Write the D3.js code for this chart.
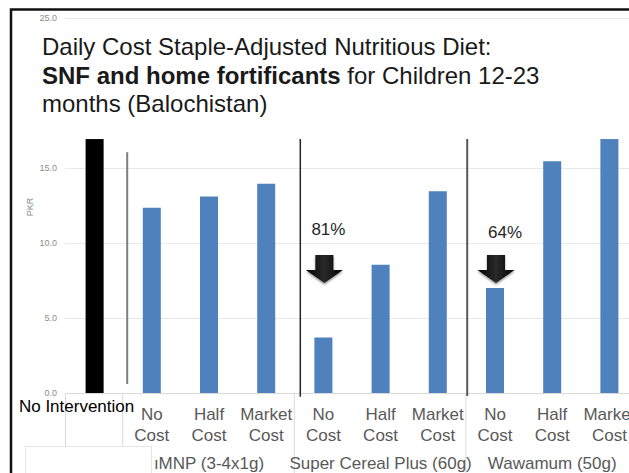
<!DOCTYPE html>
<html>
<head>
<meta charset="utf-8">
<script src="https://cdn.jsdelivr.net/npm/d3@7"></script>
<style>
  body { margin: 0; background: #fff; }
  svg { display: block; font-family: 'Liberation Sans', Arial, sans-serif; }
</style>
</head>
<body>
<div id="chart"></div>
<script>
// chart values
const groups = ['', 'ıMNP (3-4x1g)', 'Super Cereal Plus (60g)', 'Wawamum (50g)']
const costLevels = ['No Cost', 'Half Cost', 'Market Cost']
const values = [18.0, 12.35, 13.1, 13.95, 3.7, 8.55, 13.45, 7.0, 15.45, 17.4]
const yTicks = [0, 5, 10, 15, 20, 25]
const reductions = [{ index: 4, label: '81%' }, { index: 7, label: '64%' }]
const titleLines = [
  [{ text: 'Daily Cost Staple-Adjusted Nutritious Diet:', bold: false }],
  [{ text: 'SNF and home fortificants', bold: true }, { text: ' for Children 12-23', bold: false }],
  [{ text: 'months (Balochistan)', bold: false }]
]

const categories = [{ group: 0, label: ['No Intervention'] }]
groups.slice(1).forEach((g, gi) => {
  costLevels.forEach((c) => categories.push({ group: gi + 1, label: c.split(' ') }))
})
const data = categories.map((c, i) => ({ ...c, i, value: values[i] }))

const W = 629
const H = 473
const blue = '#4f81bd'
const grey = '#595959'

const svg = d3.select('#chart').append('svg')
  .attr('width', W)
  .attr('height', H)

const x = d3.scaleBand()
  .domain(d3.range(data.length))
  .range([66, 638])
  .paddingInner(0.685)
  .paddingOuter(0.3425)

const y = d3.scaleLinear()
  .domain([0, 25])
  .range([393, 18])

const step = x.step()
const bw = x.bandwidth()
const left = x.range()[0]

// the title box hides the plot between these values
const boxTop = 26
const boxBottomValue = 16.93
const hidden = (v) => y(v) > boxTop && y(v) < y(boxBottomValue)

// gridlines + y labels
svg.append('g').selectAll('line').data(yTicks).join('line')
  .attr('x1', 65).attr('x2', W)
  .attr('y1', (d) => y(d) + 0.5).attr('y2', (d) => y(d) + 0.5)
  .attr('stroke', (d) => d === 0 ? '#d9d9d9' : '#e8e8e8')

svg.append('g').selectAll('text').data(yTicks.filter((d) => !hidden(d))).join('text')
  .attr('x', 57)
  .attr('y', (d) => y(d) + 3)
  .attr('text-anchor', 'end')
  .attr('font-size', 9)
  .attr('fill', '#8c8c8c')
  .text((d) => d.toFixed(1))

svg.append('text')
  .attr('transform', `translate(33, ${y(12.4)}) rotate(-90)`)
  .attr('text-anchor', 'middle')
  .attr('font-size', 9)
  .attr('fill', '#8c8c8c')
  .text('PKR')

// bars
svg.append('g').selectAll('rect').data(data).join('rect')
  .attr('x', (d) => x(d.i))
  .attr('y', (d) => y(d.value))
  .attr('width', bw)
  .attr('height', (d) => y(0) - y(d.value))
  .attr('fill', (d) => d.group === 0 ? '#000' : blue)

// category axis: tick lines at group edges
const groupEdges = [0, 1, 4, 7]
svg.append('g').selectAll('line').data(groupEdges).join('line')
  .attr('x1', (d) => left + d * step - 0.5)
  .attr('x2', (d) => left + d * step - 0.5)
  .attr('y1', y(0))
  .attr('y2', H)
  .attr('stroke', '#d9d9d9')

// category labels
const catLabels = svg.append('g').selectAll('text').data(data.filter((d) => d.group > 0)).join('text')
  .attr('text-anchor', 'middle')
  .attr('font-size', 17)
  .attr('fill', grey)
catLabels.selectAll('tspan').data((d) => d.label.map((l) => ({ l, cx: x(d.i) + bw / 2 }))).join('tspan')
  .attr('x', (d) => d.cx)
  .attr('y', (d, i) => 420 + i * 21)
  .text((d) => d.l)

// group labels
svg.append('g').selectAll('text').data(groups.slice(1)).join('text')
  .attr('x', (d, i) => left + (groupEdges[i + 1] + 1.5) * step)
  .attr('y', 469)
  .attr('text-anchor', 'middle')
  .attr('font-size', 17)
  .attr('fill', grey)
  .text((d) => d)

// white box that sits over the lower-left axis corner
svg.append('rect')
  .attr('x', 25.5).attr('y', 446.5)
  .attr('width', 126).attr('height', 40)
  .attr('fill', '#fff')
  .attr('stroke', '#e6e6e6')

svg.append('text')
  .attr('x', x(0) + bw / 2 - 18)
  .attr('y', 412)
  .attr('text-anchor', 'middle')
  .attr('font-size', 17)
  .attr('fill', '#000')
  .text(data[0].label[0])

// title box covers the top of the plot
svg.append('rect')
  .attr('x', 12).attr('y', boxTop)
  .attr('width', W).attr('height', y(boxBottomValue) - boxTop)
  .attr('fill', '#fff')

const title = svg.append('text')
  .attr('font-size', 24)
  .attr('fill', '#1a1a1a')
titleLines.forEach((line, li) => {
  line.forEach((part, pi) => {
    const t = title.append('tspan')
      .attr('font-weight', part.bold ? 'bold' : 'normal')
      .text(part.text)
    if (pi === 0) t.attr('x', 42).attr('y', 55 + li * 28.5)
  })
})

// divider lines drawn on the slide
const dividers = [
  { at: 1, dx: 4, top: 16.05, bottom: 0.6, color: '#7f7f7f', w: 2 },
  { at: 4, dx: 5.5, top: boxBottomValue, bottom: -0.25, color: '#262626', w: 1.5 },
  { at: 7, dx: 0.8, top: boxBottomValue, bottom: -0.2, color: '#595959', w: 2 }
]
svg.append('g').selectAll('line').data(dividers).join('line')
  .attr('x1', (d) => left + d.at * step + d.dx)
  .attr('x2', (d) => left + d.at * step + d.dx)
  .attr('y1', (d) => y(d.top))
  .attr('y2', (d) => y(d.bottom))
  .attr('stroke', (d) => d.color)
  .attr('stroke-width', (d) => d.w)

// reduction arrows
const defs = svg.append('defs')
const grad = defs.append('linearGradient').attr('id', 'arrowGrad')
  .attr('x1', 0).attr('x2', 1).attr('y1', 0).attr('y2', 0)
grad.append('stop').attr('offset', 0).attr('stop-color', '#000')
grad.append('stop').attr('offset', 0.5).attr('stop-color', '#2a2a2a')
grad.append('stop').attr('offset', 1).attr('stop-color', '#000')
const shadow = defs.append('filter').attr('id', 'arrowShadow')
  .attr('x', '-30%').attr('y', '-30%').attr('width', '160%').attr('height', '160%')
shadow.append('feDropShadow').attr('dx', 0).attr('dy', 1.5).attr('stdDeviation', 1.2)
  .attr('flood-color', '#000').attr('flood-opacity', 0.45)

const arrowTop = y(9.2)
const arrowTip = y(7.33)
const arrows = svg.append('g').selectAll('g').data(reductions).join('g')
  .attr('transform', (d) => `translate(${x(d.index) + bw / 2 + 1}, 0)`)

arrows.append('path')
  .attr('d', () => {
    const neck = arrowTop + 15
    return `M-9,${arrowTop} L9,${arrowTop} L9,${neck} L18.5,${neck} L0,${arrowTip} L-18.5,${neck} L-9,${neck} Z`
  })
  .attr('fill', 'url(#arrowGrad)')
  .attr('filter', 'url(#arrowShadow)')

arrows.append('text')
  .attr('x', (d, i) => 4 + i * 5)
  .attr('y', (d, i) => 235 + i * 3)
  .attr('text-anchor', 'middle')
  .attr('font-size', 17)
  .attr('fill', '#262626')
  .text((d) => d.label)

// slide frame
svg.append('path')
  .attr('d', `M11,${H + 5} L11,9.5 L${W + 5},9.5`)
  .attr('fill', 'none')
  .attr('stroke', '#111')
  .attr('stroke-width', 2.5)
</script>
</body>
</html>
